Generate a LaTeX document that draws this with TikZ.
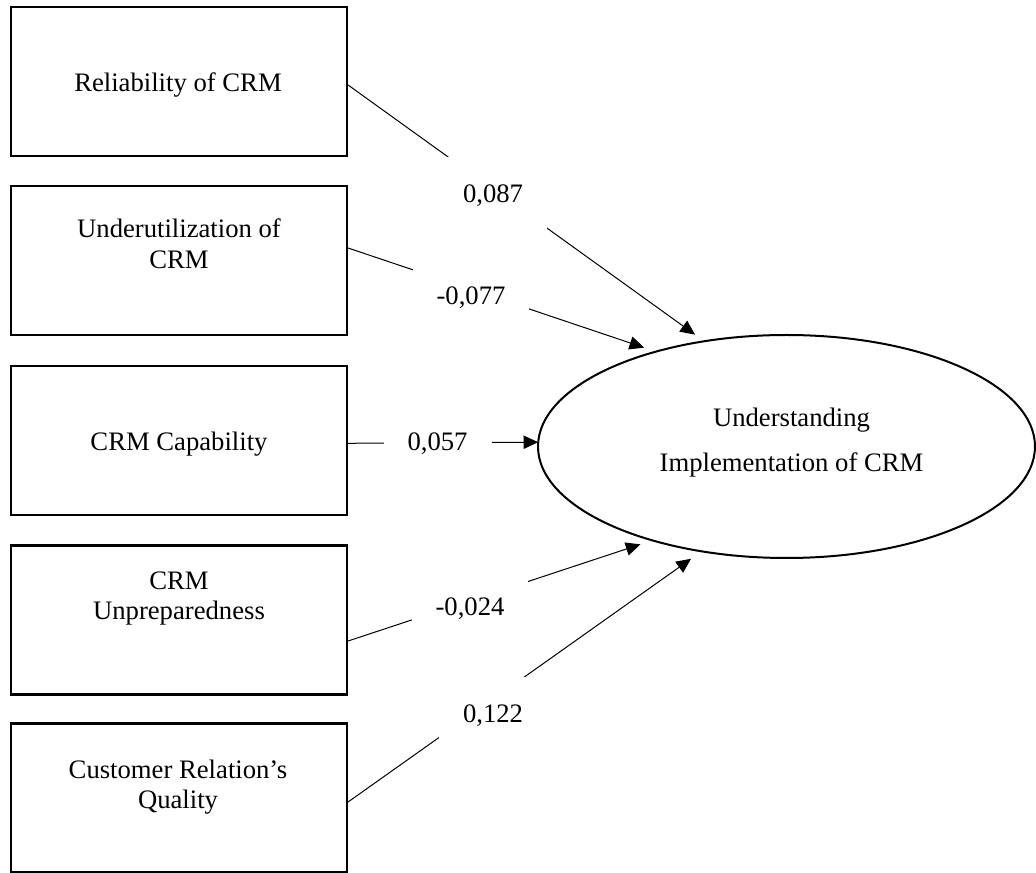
\documentclass[tikz,border=0pt]{standalone}
\usepackage{fontspec}
\setmainfont{Liberation Serif}
\usetikzlibrary{shapes.geometric,arrows.meta,calc}
\begin{document}
\begin{tikzpicture}[x=0.75pt,y=-0.75pt,
  factorbox/.style={draw, line width=1.6pt, minimum width=252pt,
    minimum height=111.75pt, inner sep=0pt},
  boxtext/.style={align=center, inner sep=0pt,
    font=\fontsize{20}{23}\selectfont},
  outcome/.style={draw, ellipse, line width=1.5pt, minimum width=372.75pt,
    minimum height=167.25pt, inner sep=0pt, outer sep=0pt},
  outtext/.style={align=center, inner sep=0pt,
    font=\fontsize{20}{34.3}\selectfont},
  link/.style={line width=0.75pt, -{Triangle[length=11pt,width=10pt]}},
  coef/.style={fill=white, inner xsep=18pt, inner ysep=20pt,
    text height=14pt, text depth=3pt, font=\fontsize{20}{23}\selectfont}
]
\useasboundingbox (0,0) rectangle (1036,873);

% predictor boxes
\node[factorbox] (b1) at (179,81.5)  {};
\node[factorbox] (b2) at (179,260.5) {};
\node[factorbox] (b3) at (179,440.5) {};
\node[factorbox] (b4) at (179,620)   {};
\node[factorbox] (b5) at (179,798)   {};

\node[boxtext] (t1) at (178,84.5)  {Reliability of CRM};
\node[boxtext] (t2) at (179,244)   {Underutilization of\\CRM};
\node[boxtext] (t3) at (179,443.8) {CRM Capability};
\node[boxtext] (t4) at (179,598.5) {CRM\\Unpreparedness};
\node[boxtext] (t5) at (178,787)   {Customer Relation’s\\Quality};

% outcome
\node[outcome] (u) at (786.5,446.5) {};
\node[outtext] (ut) at (791.5,442.6) {Understanding\\Implementation of CRM};

% paths
\draw[link, shorten >=8.5pt]  ($(b1.east)+(0,3.5)$)   -- (u.128.8);
\draw[link, shorten >=9.3pt]  ($(b2.east)+(0,-12.5)$) -- (u.144.35);
\draw[link]                   ($(b3.east)+(0,2.8)$)   -- (u.179.3);
\draw[link, shorten >=9.45pt] ($(b4.east)+(0,21)$)    -- (u.215.7);
\draw[link, shorten >=9.7pt]  ($(b5.east)+(0,4)$)     -- (u.231.7);

% path coefficients
\node[coef] (c1) at (493,195)   {0,087};
\node[coef] (c2) at (471,297)   {-0,077};
\node[coef] (c3) at (437.5,443) {0,057};
\node[coef] (c4) at (470,608)   {-0,024};
\node[coef] (c5) at (493,715)   {0,122};
\end{tikzpicture}
\end{document}
